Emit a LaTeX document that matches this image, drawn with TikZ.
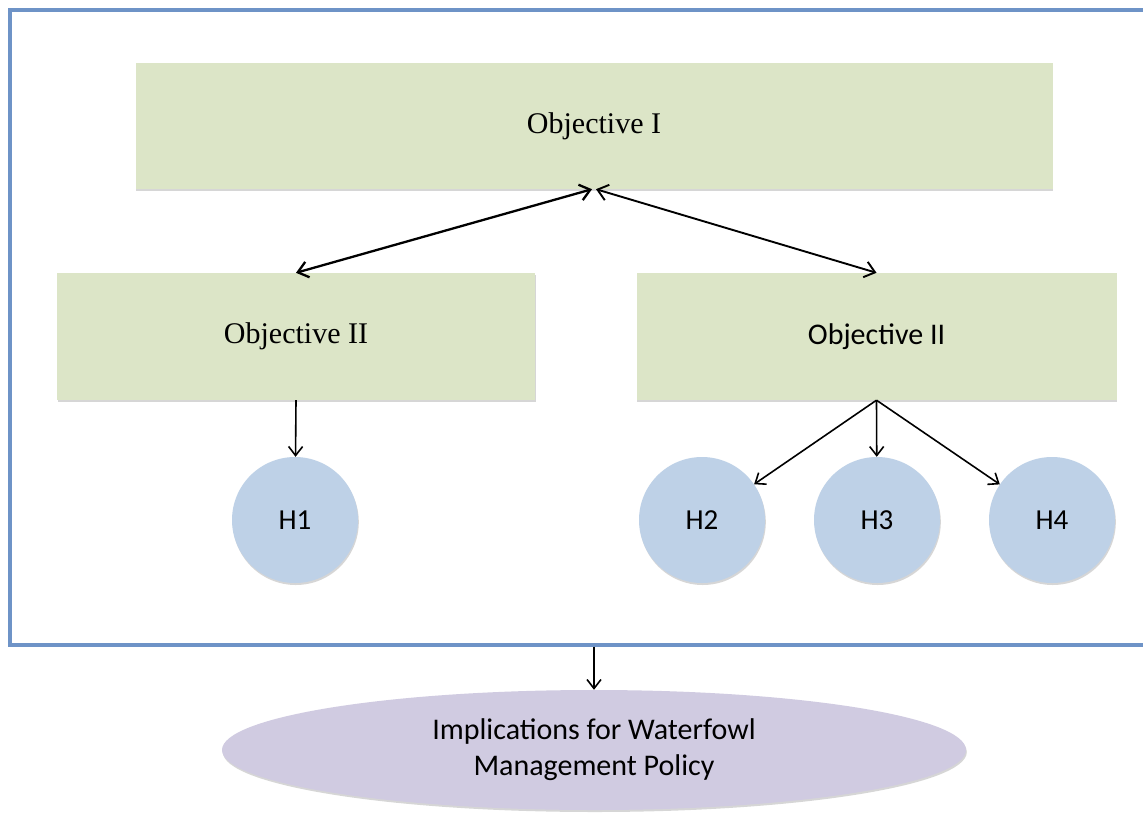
\documentclass[tikz,border=0pt]{standalone}
\usepackage{fontspec}
\setmainfont{Liberation Serif}
\newfontfamily\calib{Carlito}
\usetikzlibrary{arrows.meta,shadows,shapes.geometric}
\definecolor{boxgreen}{RGB}{220,229,199}
\definecolor{hblue}{RGB}{190,209,231}
\definecolor{lav}{RGB}{208,203,225}
\definecolor{frameblue}{RGB}{110,147,199}
\begin{document}
\begin{tikzpicture}[x=1pt,y=-1pt,
  shad/.style={drop shadow={shadow xshift=0.8pt,shadow yshift=-2pt,fill=black!45,opacity=0.35}},
  objbox/.style={rectangle,fill=boxgreen,inner sep=0pt,shad},
  hcirc/.style={circle,fill=hblue,inner sep=0pt,minimum size=126pt,shad,font=\calib\fontsize{29}{34}\selectfont},
  dbl/.style={{Straight Barb[length=10pt,width=16pt]}-{Straight Barb[length=10pt,width=16pt]},line width=2.3pt},
  arr/.style={-{Straight Barb[length=9pt,width=14pt]},line width=1.6pt},
  serifT/.style={font=\fontsize{30}{36}\selectfont},
  sansT/.style={font=\calib\fontsize{30}{36}\selectfont}]
\useasboundingbox (0,0) rectangle (1143,817);
\clip (0,0) rectangle (1143,817);
\fill[white] (0,0) rectangle (1143,817);
\draw[frameblue,line width=3.2pt] (10,10) rectangle (1170,645);

\node[objbox,serifT,minimum width=917pt,minimum height=126pt] (o1) at (594,126) {Objective I};
\node[objbox,serifT,minimum width=478pt,minimum height=127pt] (o2l) at (296,336.5) {Objective II};
\node[objbox,sansT,minimum width=480pt,minimum height=127pt] (o2r) at (876.5,336.5) {Objective II};

\node[hcirc] (h1) at (295,520) {H1};
\node[hcirc] (h2) at (702,520) {H2};
\node[hcirc] (h3) at (877,520) {H3};
\node[hcirc] (h4) at (1052,520) {H4};

\node[ellipse,fill=lav,inner sep=0pt,minimum width=744pt,minimum height=120pt,shad,
      align=center,font=\calib\fontsize{30}{36}\selectfont] (imp) at (594,750)
      {Implications for Waterfowl\\Management Policy};

\draw[dbl] (o2l.north) -- ([xshift=-2pt]o1.south);
\draw[dbl,line width=1.9pt] ([xshift=2pt]o1.south) -- (o2r.north);
\draw[arr] (o2l.south) -- (h1);
\draw[arr] (o2r.south) -- (h2);
\draw[arr] (o2r.south) -- (h3);
\draw[arr] (o2r.south) -- (h4);
\coordinate (fb) at (594,646.5);
\draw[arr] (fb) -- (imp.north);
\end{tikzpicture}
\end{document}
